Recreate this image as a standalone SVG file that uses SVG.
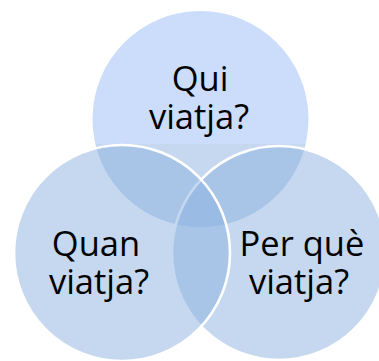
<svg xmlns="http://www.w3.org/2000/svg" width="379" height="361" viewBox="0 0 379 361">
  <style>
    .lbl { font-family: "Open Sans", "Liberation Sans", sans-serif; font-size: 34.5px; fill: #000000; text-anchor: middle; }
    .low { fill: #8BB1DF; fill-opacity: 0.5; stroke: #FFFFFF; stroke-width: 2.6; }
  </style>
  <rect x="0" y="0" width="379" height="361" fill="#FFFFFF"/>
  <g id="node-qui">
    <circle cx="200.5" cy="119" r="108" fill="#CCDDFC"/>
    <path d="M95.43,144 H305.57 A108,108 0 0 1 95.43,144 Z" fill="#C5D8F0"/>
    <text class="lbl"><tspan x="200" y="91">Qui</tspan><tspan x="199" y="129">viatja?</tspan></text>
  </g>
  <g id="node-perque">
    <circle class="low" cx="279" cy="253" r="107"/>
  </g>
  <g id="node-quan">
    <circle class="low" cx="122" cy="253" r="108"/>
  </g>
  <g id="labels-low">
    <text class="lbl"><tspan x="96" y="256">Quan</tspan><tspan x="99" y="294">viatja?</tspan></text>
    <text class="lbl"><tspan x="302" y="256">Per què</tspan><tspan x="299" y="294">viatja?</tspan></text>
  </g>
  <g id="connectors"/>
</svg>
